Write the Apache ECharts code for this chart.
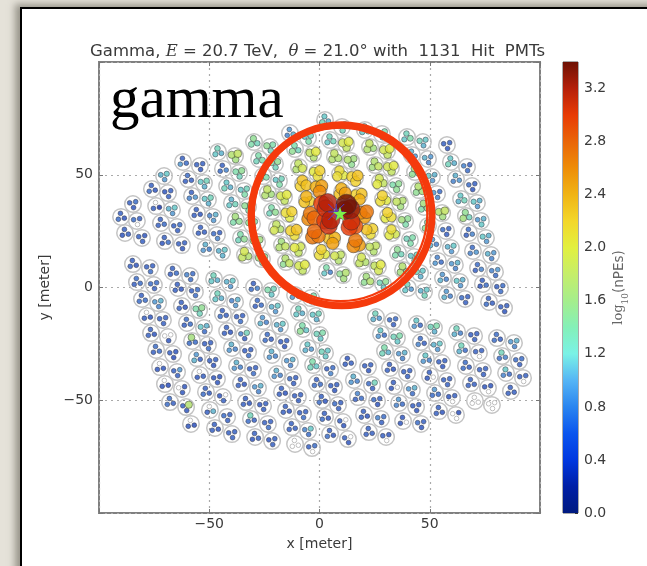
<!DOCTYPE html>
<html><head><meta charset="utf-8">
<script src="https://cdn.jsdelivr.net/npm/echarts@6/dist/echarts.min.js"></script>
<style>
html,body{margin:0;padding:0;width:647px;height:566px;overflow:hidden;background:#e5e2d9;}
#frame{position:absolute;left:20px;top:7px;width:700px;height:700px;background:#fff;border-left:2px solid #000;border-top:2px solid #000;box-shadow:-5px -3px 7px rgba(90,85,75,.55);}
#chart{position:absolute;left:0;top:0;width:647px;height:566px;filter:blur(0.5px);}
</style></head><body>
<div id="frame"></div><div id="chart"></div>
<script>
// Axis and colour bar scales
const axisRange = [-100, 100];
const axisStep = 50;
const barMax = 3.4;
const barStep = 0.4;
const barColors = ['#001a80','#001fa6','#0038e0','#0a55ee','#2a85f0','#55b5f5','#7af2e6','#84f0b8','#a5ee8c','#c5ee6a','#e2f03f','#f3d72a','#f0b415','#ee8d08','#e96508','#e83b05','#b5200a','#6e1205'];
const dotColors = ['#001a80','#0c2296','#1c3fb4','#2850bc','#3568c6','#4c95d0','#62c6c6','#7cdba8','#a0dc78','#c0e05a','#dfe63a','#f0d02a','#f0b010','#ee8a08','#e96508','#e83b05','#b5200a','#6e1205'];
const titleParts = ['Gamma, ', 'E', ' = 20.7 TeV,  ', 'θ', ' = 21.0° with  1131  Hit  PMTs'];
const stampText = 'gamma';
const ringCenter = [10.0, 32.0];
const showerCore = [9.3, 32.7];
const coreCross = [7.6, 33.5];
// Telescopes per column of the array
const colSizes = [5,9,12,14,16,18,20,20,20,19,19,20,20,20,18,10,14,12,10,7];
const colStartRight = [1,1,0,0,0,0,0,0,0,1,0,0,0,0,0,0,0,0,0,0];
const teleX = [
-84.6,-90.0,-82.8,-88.2,-80.5,
-70.5,-76.0,-68.7,-74.1,-66.9,-71.9,-64.6,-70.1,-62.4,
-61.9,-54.2,-59.6,-52.4,-57.8,-50.6,-55.6,-48.3,-53.7,-46.5,-51.5,-44.2,
-46.0,-38.3,-43.8,-36.5,-41.9,-34.2,-39.7,-32.4,-37.9,-30.6,-35.6,-28.3,-33.8,-26.1,
-29.7,-22.4,-27.4,-20.2,-25.6,-18.4,-23.4,-16.1,-21.5,-13.8,-19.3,-11.6,-17.0,-9.8,-15.2,-7.9,
-13.4,-5.2,-11.1,-2.9,-9.3,-1.1,-7.5,-0.2,-5.7,2.5,-3.9,3.9,-2.0,5.7,1.1,8.4,3.4,10.7,
2.5,10.2,4.8,12.0,7.0,14.3,9.3,16.1,10.2,17.9,12.5,20.2,14.7,22.9,16.6,24.3,19.3,26.5,21.5,28.8,
20.6,28.3,22.9,30.6,25.2,32.4,27.4,34.7,28.8,36.5,31.1,38.8,32.9,41.0,35.6,42.9,37.9,45.6,40.1,47.4,
39.7,46.9,41.9,49.2,43.3,51.0,45.1,53.3,47.4,55.6,49.2,57.4,51.5,59.6,53.7,61.4,56.0,63.7,57.8,66.0,
57.8,59.6,66.9,61.9,69.2,64.2,71.4,66.4,73.2,67.8,75.5,69.6,77.8,71.9,79.6,74.1,81.9,76.9,83.7,
-84.6,-76.9,-82.8,-75.1,-80.5,-73.2,-78.2,-71.0,-76.4,-68.7,-74.1,-66.4,-72.3,-64.6,-70.1,-62.4,-67.8,-60.5,-58.3,
-66.4,-58.7,-64.2,-56.5,-62.4,-54.6,-60.1,-52.4,-57.8,-50.6,-55.6,-48.3,-54.2,-46.5,-51.5,-43.8,-49.7,-41.9,-47.4,-39.7,
-47.8,-40.6,-46.0,-38.3,-43.8,-36.1,-41.9,-34.2,-39.7,-32.4,-37.4,-30.2,-35.6,-27.9,-33.3,-25.6,-31.1,-23.4,-29.2,-21.5,
-29.7,-22.0,-27.9,-20.2,-25.6,-17.9,-23.4,-16.1,-21.5,-13.4,-19.3,-12.0,-17.0,-9.8,-15.2,-7.5,-12.5,-5.2,-11.1,-3.4,
-11.1,-3.9,-9.3,-1.6,-7.5,0.2,-5.2,2.5,-2.9,4.8,-1.1,6.6,1.1,8.4,2.5,10.7,4.8,12.9,
12.9,22.0,15.6,23.8,17.5,26.1,20.2,27.9,22.4,30.2,
25.6,33.3,27.9,35.1,29.7,37.4,32.0,39.7,33.8,41.9,36.1,43.8,37.9,46.0,
44.2,51.9,46.0,53.3,48.3,55.6,50.1,57.8,52.4,60.1,54.2,61.9,
62.4,70.1,64.6,72.3,66.4,74.1,68.7,76.4,70.5,78.2,
80.5,88.2,82.8,90.5,84.6,92.3,86.8];
const teleY = [
37.0,31.3,29.5,24.2,22.0,
49.4,43.7,41.9,36.1,34.4,28.6,26.8,20.6,18.8,
55.7,53.9,48.1,46.3,40.6,38.8,33.0,31.3,25.1,23.3,17.5,15.7,
60.1,58.3,52.6,50.8,45.0,42.8,37.5,35.7,29.9,28.2,22.0,20.2,14.4,12.6,
64.5,62.3,57.0,54.8,49.4,47.2,41.9,40.1,33.9,32.6,26.4,24.6,18.8,17.1,11.3,9.1,
68.5,66.3,61.4,59.2,53.4,50.8,45.9,44.1,38.8,36.6,31.3,29.0,23.3,21.1,15.3,13.5,7.3,5.5,
74.3,71.2,65.4,63.6,57.9,56.1,50.3,48.6,42.4,40.6,35.3,32.6,27.7,25.1,19.3,17.5,11.8,9.1,3.3,1.6,
69.9,68.1,62.3,60.5,54.3,53.0,46.8,45.0,39.2,37.5,31.7,29.5,24.2,21.1,15.3,13.5,7.8,6.4,-0.2,-2.0,
66.7,64.5,58.8,57.0,51.2,49.0,43.2,41.5,35.7,33.0,27.3,25.1,19.7,17.5,11.8,10.0,4.2,2.4,-3.3,-5.1,
63.2,55.7,53.4,48.1,45.0,39.2,37.5,31.7,29.5,24.2,22.0,16.2,14.4,8.6,6.9,1.6,-0.2,-6.4,-9.1,
10.4,8.6,2.4,1.1,-5.1,-6.9,-12.6,-14.4,-20.2,-22.0,-27.7,-29.5,-35.3,-37.5,-42.8,-45.0,-50.8,-53.0,-60.5,
6.9,5.1,-0.2,-2.0,-8.2,-10.0,-15.7,-18.0,-23.7,-25.5,-31.3,-33.0,-38.8,-40.6,-46.3,-48.6,-54.3,-57.4,-62.3,-65.0,
3.8,2.0,-4.2,-6.4,-11.8,-13.5,-19.3,-21.1,-26.8,-28.6,-34.8,-36.6,-42.4,-44.6,-50.8,-52.5,-58.3,-60.5,-66.3,-68.1,
0.2,-1.6,-7.3,-9.1,-14.9,-17.1,-22.4,-24.6,-29.9,-33.0,-38.4,-41.0,-46.3,-48.6,-54.3,-56.1,-61.9,-63.6,-69.4,-71.2,
-3.3,-4.7,-10.9,-12.6,-18.4,-21.1,-26.8,-29.0,-34.4,-36.6,-42.4,-44.1,-49.9,-52.1,-57.4,-59.7,-65.0,-67.2,
-33.0,-35.3,-41.0,-43.2,-48.6,-50.3,-56.5,-58.3,-64.1,-66.3,
-13.1,-14.9,-20.6,-22.4,-28.2,-29.9,-35.7,-37.9,-43.7,-45.5,-51.2,-53.0,-59.2,-60.5,
-16.2,-18.0,-24.2,-25.9,-31.7,-33.5,-39.2,-41.5,-46.8,-49.0,-54.8,-56.5,
-19.7,-21.5,-27.3,-29.0,-34.8,-37.0,-42.4,-44.6,-50.3,-52.1,
-22.4,-24.6,-30.4,-32.6,-37.9,-40.1,-45.9];
// log10(nPEs) of the three PMTs in each telescope; -1 marks a PMT with no hit
const pmtA = [
.8,.7,.7,.7,.6,
1.2,.7,.7,-1,1.2,.7,.8,.7,.7,
.7,.7,.8,1.3,.7,1.3,.7,1.1,.7,.7,1.1,1.2,
1.3,1.8,.7,1.5,1.2,1.3,1.1,1.6,1.6,1.4,1.4,1.6,1.9,1.5,
1.5,1.4,1.4,1.5,1.6,1.3,1.8,2.0,1.4,2.2,1.8,2.3,1.6,1.9,1.7,2.0,
1.0,1.3,1.4,2.0,1.8,2.2,2.3,2.5,2.4,3.2,2.7,3.2,2.8,2.4,2.2,1.8,1.4,1.7,
1.2,1.5,1.3,2.0,1.8,1.6,2.1,2.3,2.4,2.3,3.4,2.7,3.1,2.2,2.7,1.8,1.9,2.0,1.6,1.5,
1.3,1.4,1.8,2.0,1.7,2.0,1.9,1.5,2.2,1.7,2.2,1.5,2.1,1.4,1.5,1.3,1.7,1.2,1.3,1.2,
1.3,1.2,1.1,1.0,1.6,1.1,1.7,.8,1.6,1.8,1.4,.7,1.0,1.2,.9,1.1,1.0,1.1,1.0,.7,
.7,1.2,.7,1.1,.7,1.2,1.1,1.5,1.1,.8,1.1,.8,1.0,.8,1.0,.7,.8,.7,.7,
.7,.7,.8,.8,.7,1.1,-1,.7,.7,-1,.8,.6,-1,1.0,-1,.6,.8,1.7,-1,
.7,.8,.7,.8,.7,1.5,.8,1.1,1.6,.7,1.0,.7,-1,.6,.7,-1,-1,.7,.7,.7,
1.3,1.2,1.3,1.1,.7,.7,.7,1.3,1.1,.7,1.1,.7,.7,1.1,.7,.7,1.3,.7,.7,.7,
.7,1.3,.8,1.2,1.0,1.2,.8,.7,1.1,1.1,1.1,.7,.7,.7,.7,.7,.7,1.2,-1,.8,
.8,1.4,1.3,1.3,1.4,1.4,1.2,1.2,1.4,.8,.7,.7,.7,.7,.7,-1,.7,-1,
.6,.7,1.1,1.3,.9,.7,.7,.8,.7,.6,
1.3,.8,1.2,1.4,1.4,1.1,.7,.7,.7,1.1,1.0,.7,.6,.7,
1.2,1.4,.8,1.2,1.2,.7,.7,.7,1.0,.7,.7,.5,
1.3,.7,1.3,.7,.8,.7,.7,.6,-1,-1,
.8,1.1,1.3,.8,1.2,.7,.7];
const pmtB = [
.7,.8,.8,.6,.7,
1.1,.8,.6,.7,1.1,.7,.7,.6,.7,
1.0,.7,.7,1.2,.9,1.2,.7,.9,.7,.8,1.0,1.1,
1.2,1.7,.8,1.4,1.3,1.2,1.2,1.5,1.4,1.5,1.3,1.7,1.8,1.6,
1.4,1.5,1.3,1.4,1.5,1.2,1.7,1.9,1.3,2.1,1.9,2.2,1.7,2.0,1.5,1.9,
.9,1.2,1.5,1.8,1.7,2.0,2.2,2.4,2.3,3.0,2.6,3.0,2.7,2.3,2.1,1.9,1.2,1.5,
1.3,1.4,1.2,1.9,1.7,1.7,2.1,2.2,2.3,2.2,3.2,2.6,3.0,2.3,2.6,1.8,1.8,1.8,1.5,1.3,
1.2,1.3,1.7,1.9,1.6,1.9,2.0,1.4,2.1,1.8,2.0,1.6,2.0,1.3,1.4,1.2,1.6,1.3,1.2,1.1,
1.2,1.3,1.2,1.1,1.5,1.2,1.5,1.0,1.4,1.7,1.5,.8,1.1,1.1,1.0,1.0,1.1,1.2,1.1,.8,
.7,1.3,.9,.9,.8,1.1,1.2,1.6,1.0,.7,1.2,.9,1.1,.7,.9,.6,.7,.8,.7,
.7,.7,.7,.8,.8,1.0,.7,.7,.7,-1,.7,.7,.6,.7,.6,-1,.8,.7,.6,
.7,.9,.7,.7,.7,1.4,.7,1.2,.8,.7,1.1,.7,.6,.6,.8,.6,.7,.8,.7,.7,
1.2,1.1,1.2,.9,.8,.7,.7,.9,1.0,.7,1.0,.7,.7,1.0,.7,.6,.8,.7,.6,.6,
.8,1.4,.7,1.1,1.1,1.1,.8,.7,1.0,1.0,1.0,.8,.7,.7,.7,.7,.7,.9,-1,.7,
1.0,1.3,1.2,1.2,1.5,1.3,1.1,1.3,1.3,.7,.8,.7,.8,.8,.8,.7,.8,.7,
.7,.7,1.0,.8,.7,.8,.7,.9,.7,.7,
1.1,.8,1.0,1.3,1.3,1.0,.7,.7,.6,1.0,.9,.7,.6,.8,
1.0,1.3,.9,1.1,1.0,.7,.6,.7,.8,.6,.7,-1,
1.1,.7,1.1,.7,.8,.7,.7,.6,-1,-1,
.8,1.0,.8,.8,.9,.7,.7];
const pmtC = [
.6,.6,-1,.7,.7,
1.0,.6,.7,.3,1.0,.8,.7,.8,.6,
.8,.6,.7,1.1,1.0,1.1,.6,1.0,.7,.9,.9,1.1,
1.1,1.6,.9,1.3,1.1,1.4,1.3,1.4,1.5,1.5,1.5,1.5,1.7,1.4,
1.3,1.3,1.4,1.3,1.4,1.4,1.6,1.8,1.5,2.0,1.7,2.1,1.8,1.8,1.8,1.8,
1.1,1.4,1.3,1.7,1.9,2.1,2.3,2.6,2.2,3.1,2.8,3.1,2.7,2.5,2.0,1.7,.9,1.6,
1.1,1.3,1.3,1.8,1.7,1.5,2.0,2.2,2.5,2.4,3.3,2.5,2.9,2.1,2.5,1.7,1.7,1.9,1.7,1.2,
1.4,1.2,1.6,1.8,1.8,1.8,1.8,1.5,2.0,1.6,2.1,1.4,1.9,1.4,1.3,1.4,1.4,1.1,1.0,1.3,
1.4,1.1,1.0,.9,1.4,1.0,1.6,.9,1.5,1.6,1.3,.7,.9,1.0,.8,.9,.9,1.0,.9,.7,
.6,1.1,.8,1.0,.6,1.3,1.0,1.3,1.2,.9,1.0,1.0,.9,.9,.8,.8,.8,.7,.6,
.6,.8,.8,.7,.8,.9,.6,.7,.6,.6,.8,.5,.6,.7,.5,.6,.7,.6,.5,
.8,.8,.6,.8,.6,1.3,.8,.8,.8,.8,.7,.6,.7,.6,.7,.7,1.1,.7,.6,.7,
1.1,1.0,1.1,1.0,.7,.8,.6,.7,.9,.8,.9,.8,.6,.9,.6,.7,.7,.8,.7,.7,
.9,1.2,.8,1.0,.9,1.0,.7,.6,.9,.9,.9,.7,.6,.7,.6,.8,.7,.8,-1,-1,
.7,1.1,1.1,1.1,1.2,1.2,1.0,1.2,1.2,.9,.8,.6,.6,.7,.6,.6,.6,.6,
.7,.6,.9,.7,.8,.6,.6,.7,.7,-1,
1.0,.7,.8,1.2,1.1,.9,.6,.7,-1,.8,.8,.6,-1,.6,
.8,1.1,.7,1.0,.9,.6,-1,.7,.8,-1,.6,-1,
.9,.7,.8,-1,.7,.7,.7,-1,-1,-1,
.7,.9,.9,.7,.8,-1,.7];

const pmtValues = [pmtA, pmtB, pmtC];
const pmtReach = 1.6;           // PMT distance from telescope centre, metres
function sizeFor(v){ const d = Math.max(0, v - 1); return 4.8 + 2.4 * d + 1.7 * d * d; }

const rings = teleX.map((x, i) => [x, teleY[i]]);
const hit = [], empty = [];
let idx = 0;
colSizes.forEach((n, c) => {
  for (let k = 0; k < n; k++, idx++) {
    const right = (k + colStartRight[c]) % 2 === 1;
    const base = right ? 40 : 100;
    pmtValues.forEach((vals, p) => {
      const a = (base + p * 120) * Math.PI / 180;
      const px = teleX[idx] + pmtReach * Math.cos(a);
      const py = teleY[idx] + pmtReach * Math.sin(a);
      if (vals[idx] < 0) empty.push([px, py]); else hit.push([px, py, vals[idx]]);
    });
  }
});
hit.sort((a, b) => a[2] - b[2]);

const labelColor = '#3a3a3a';
const boxColor = '#808080';
const plainLabel = v => (v === axisRange[0] || v === axisRange[1]) ? '' : String(v).replace('-', '−');
const mainAxis = { min: axisRange[0], max: axisRange[1], interval: axisStep,
  axisLine: { show: false, onZero: false },
  axisTick: { show: true, inside: true, length: 4, lineStyle: { color: '#777', width: 1 } },
  splitLine: { show: true, lineStyle: { color: '#aaa', type: [2, 4], width: 1.2 } } };
const sideAxis = { min: axisRange[0], max: axisRange[1], interval: axisStep,
  axisLine: { show: false, onZero: false }, axisLabel: { show: false }, splitLine: { show: false },
  axisTick: { show: true, inside: true, length: 4, lineStyle: { color: '#777', width: 1 } } };

const stops = barColors.map((c, i) => ({ offset: i / (barColors.length - 1), color: c }));

const option = {
  animation: false,
  backgroundColor: 'transparent',
  textStyle: { fontFamily: 'DejaVu Sans' },
  title: [
    { left: 85, top: 38, textStyle: { fontSize: 16.5, fontWeight: 'normal', color: labelColor,
        rich: { n: { fontSize: 16.5, color: labelColor, fontFamily: 'DejaVu Sans' },
                i: { fontSize: 16.5, color: labelColor, fontStyle: 'italic', fontFamily: 'DejaVu Serif' } } },
      text: `{n|${titleParts[0]}}{i|${titleParts[1]}}{n|${titleParts[2]}}{i|${titleParts[3]}}{n|${titleParts[4]}}` },
    { left: 105, top: 67, text: stampText, textStyle: { fontFamily: 'Liberation Serif', fontSize: 59, fontWeight: 'normal', color: '#000' } }
  ],
  grid: [
    { left: 99, top: 62, width: 441, height: 451, show: true, borderColor: boxColor, borderWidth: 2, backgroundColor: '#fff' },
    { left: 563, top: 62, width: 15, height: 451, show: true, borderColor: '#555', borderWidth: 1, backgroundColor: 'transparent' }
  ],
  xAxis: [
    Object.assign({}, mainAxis, { type: 'value', gridIndex: 0, position: 'bottom', name: 'x [meter]', nameLocation: 'middle', nameGap: 24,
      nameTextStyle: { fontSize: 14, color: labelColor },
      axisLabel: { fontSize: 14, color: labelColor, margin: 4, formatter: plainLabel } }),
    Object.assign({}, sideAxis, { type: 'value', gridIndex: 0, position: 'top' }),
    { type: 'value', gridIndex: 1, min: 0, max: 1, show: false }
  ],
  yAxis: [
    Object.assign({}, mainAxis, { type: 'value', gridIndex: 0, position: 'left', name: 'y [meter]', nameLocation: 'middle', nameGap: 33, nameRotate: 90,
      nameTextStyle: { fontSize: 14, color: labelColor },
      axisLabel: { fontSize: 14, color: labelColor, margin: 6, formatter: plainLabel } }),
    Object.assign({}, sideAxis, { type: 'value', gridIndex: 0, position: 'right' }),
    { type: 'value', gridIndex: 1, min: 0, max: barMax, interval: barStep, position: 'right',
      axisLine: { show: false, onZero: false }, splitLine: { show: false },
      axisTick: { show: true, inside: true, length: 3, lineStyle: { color: '#333' } },
      axisLabel: { fontSize: 14, color: labelColor, margin: 6, formatter: v => v > barMax - 0.1 ? '' : v.toFixed(1) },
      name: '{s|log}{u|10}{n|(nPEs)}', nameLocation: 'middle', nameGap: 30, nameRotate: 90,
      nameTextStyle: { rich: {
        s: { fontFamily: 'DejaVu Serif', fontSize: 13, color: '#666' },
        u: { fontFamily: 'DejaVu Serif', fontSize: 9, color: '#666', verticalAlign: 'bottom', lineHeight: 22 },
        n: { fontFamily: 'DejaVu Sans', fontSize: 13.5, color: '#666' } } } }
  ],
  visualMap: { show: false, type: 'continuous', seriesIndex: 1, dimension: 2, min: 0, max: barMax, inRange: { color: dotColors } },
  series: [
    { name: 'telescopes', type: 'scatter', xAxisIndex: 0, yAxisIndex: 0, symbol: 'circle', symbolSize: 16.5, data: rings, z: 2,
      itemStyle: { opacity: 1, color: 'rgba(255,255,255,0)', borderColor: '#c4c4c4', borderWidth: 1.5 } },
    { name: 'pmt hits', type: 'scatter', xAxisIndex: 0, yAxisIndex: 0, symbol: 'circle', data: hit, z: 3,
      symbolSize: d => sizeFor(d[2]),
      itemStyle: { opacity: 0.82, borderColor: 'rgba(40,40,50,0.7)', borderWidth: 0.8 } },
    { name: 'pmt empty', type: 'scatter', xAxisIndex: 0, yAxisIndex: 0, symbol: 'circle', symbolSize: 4.6, data: empty, z: 3,
      itemStyle: { opacity: 1, color: 'rgba(255,255,255,0.6)', borderColor: '#bdbdbd', borderWidth: 1 } },
    { name: 'core cross', type: 'scatter', xAxisIndex: 0, yAxisIndex: 0, symbol: 'path://M0,0L10,10M10,0L0,10M5,0L5,10M0,5L10,5', symbolSize: 16, data: [coreCross], z: 4,
      itemStyle: { opacity: 1, color: 'none', borderColor: '#4a3fd0', borderWidth: 1 } },
    { name: 'core', type: 'scatter', xAxisIndex: 0, yAxisIndex: 0, symbol: 'path://M50,0L62,36L100,36L69,58L81,95L50,72L19,95L31,58L0,36L38,36Z', symbolSize: 14, data: [showerCore], z: 5,
      itemStyle: { color: '#7cf14a', opacity: 1 } },
    { name: 'circle outer', type: 'scatter', xAxisIndex: 0, yAxisIndex: 0, symbol: 'circle', symbolSize: 181, data: [ringCenter], z: 6, silent: true,
      itemStyle: { opacity: 1, color: 'rgba(0,0,0,0)', borderColor: '#f53a0c', borderWidth: 7 } },
    { name: 'circle inner', type: 'scatter', xAxisIndex: 0, yAxisIndex: 0, symbol: 'circle', symbolSize: 173.5, data: [[ringCenter[0] - 0.45, ringCenter[1] + 0.45]], z: 6, silent: true,
      itemStyle: { opacity: 1, color: 'rgba(0,0,0,0)', borderColor: '#f53a0c', borderWidth: 2.2 } },
    { name: 'colour bar', type: 'custom', xAxisIndex: 2, yAxisIndex: 2, data: [[0, 1, barMax]], z: 2, silent: true,
      renderItem: (params, api) => {
        const a = api.coord([api.value(0), api.value(2)]);
        const b = api.coord([api.value(1), 0]);
        return { type: 'rect', shape: { x: a[0], y: a[1], width: b[0] - a[0], height: b[1] - a[1] },
          style: { fill: new echarts.graphic.LinearGradient(0, 1, 0, 0, stops) } };
      } }
  ]
};
const chart = echarts.init(document.getElementById('chart'), null, { renderer: 'canvas', width: 647, height: 566 });
chart.setOption(option);
</script>
</body></html>
